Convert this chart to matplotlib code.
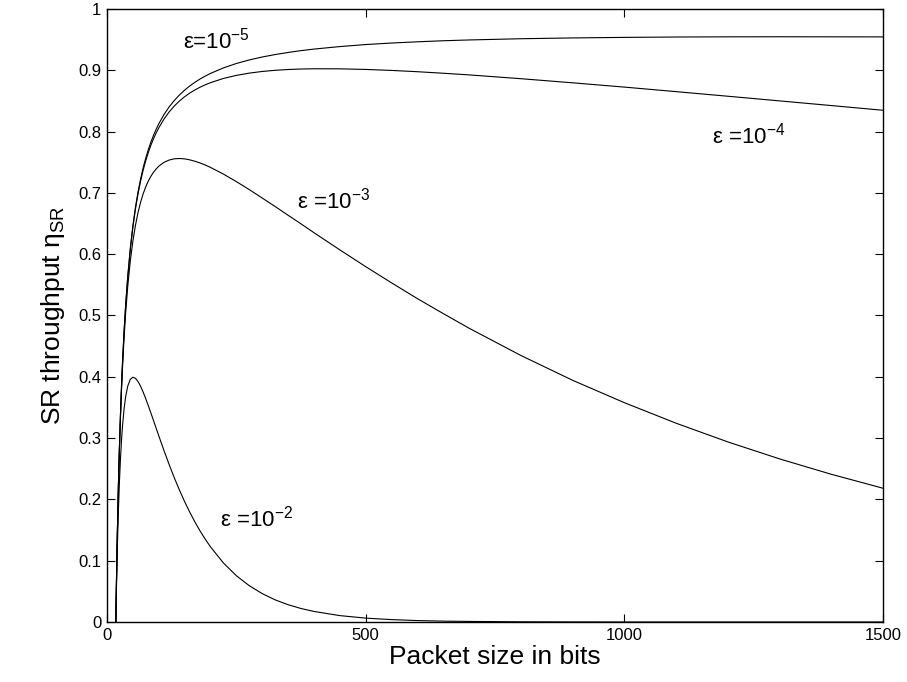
import matplotlib
matplotlib.use('Agg')
import matplotlib.pyplot as plt

plt.rcParams['font.family'] = ['Liberation Sans', 'DejaVu Sans']
plt.rcParams['mathtext.fontset'] = 'custom'
plt.rcParams['mathtext.rm'] = 'Liberation Sans'
plt.rcParams['mathtext.it'] = 'Liberation Sans:italic'
plt.rcParams['mathtext.bf'] = 'Liberation Sans:bold'

# packet size in bits (x samples)
L = [17, 18, 19, 20, 22, 24, 26, 28, 30, 33, 36, 40, 45, 50, 55, 60, 65, 70, 75, 80,
     85, 90, 95, 100, 110, 120, 130, 140, 150, 160, 170, 180, 190, 200, 225, 250, 275,
     300, 325, 350, 375, 400, 450, 500, 550, 600, 650, 700, 800, 900, 1000, 1100, 1200,
     1300, 1400, 1500]

# SR throughput
eta_e2 = [0, 0.0464, 0.0870, 0.1227, 0.1822, 0.2292, 0.2665, 0.2965, 0.3205, 0.3480,
          0.3676, 0.3847, 0.3958, 0.3993, 0.3975, 0.3922, 0.3843, 0.3747, 0.3639, 0.3524,
          0.3405, 0.3283, 0.3160, 0.3038, 0.2799, 0.2570, 0.2354, 0.2152, 0.1964, 0.1790,
          0.1630, 0.1483, 0.1349, 0.1226, 0.0963, 0.0755, 0.0592, 0.0463, 0.0361, 0.0282,
          0.0220, 0.0172, 0.0104, 0.0063, 0.0039, 0.0023, 0.0014, 0.0009, 0.0003, 0.0001,
          0, 0, 0, 0, 0, 0]
eta_e3 = [0, 0.0540, 0.1022, 0.1456, 0.2201, 0.2819, 0.3339, 0.3782, 0.4163, 0.4644,
          0.5040, 0.5469, 0.5889, 0.6215, 0.6474, 0.6682, 0.6851, 0.6989, 0.7103, 0.7197,
          0.7274, 0.7339, 0.7391, 0.7435, 0.7498, 0.7536, 0.7556, 0.7561, 0.7555, 0.7539,
          0.7516, 0.7488, 0.7454, 0.7416, 0.7307, 0.7184, 0.7054, 0.6916, 0.6778, 0.6635,
          0.6495, 0.6351, 0.6071, 0.5797, 0.5533, 0.5275, 0.5031, 0.4792, 0.4348, 0.3943,
          0.3578, 0.3243, 0.2938, 0.2661, 0.2410, 0.2182]
eta_e4 = [0, 0.0544, 0.1031, 0.1469, 0.2225, 0.2854, 0.3387, 0.3843, 0.4238, 0.4741,
          0.5159, 0.5618, 0.6077, 0.6442, 0.6741, 0.6988, 0.7197, 0.7376, 0.7530, 0.7664,
          0.7782, 0.7886, 0.7978, 0.8061, 0.8203, 0.8320, 0.8417, 0.8499, 0.8569, 0.8629,
          0.8680, 0.8725, 0.8764, 0.8798, 0.8867, 0.8917, 0.8954, 0.8981, 0.9000, 0.9013,
          0.9021, 0.9025, 0.9024, 0.9014, 0.8998, 0.8977, 0.8952, 0.8925, 0.8863, 0.8796,
          0.8726, 0.8652, 0.8577, 0.8501, 0.8425, 0.8348]
eta_e5 = [0, 0.0544, 0.1031, 0.1470, 0.2227, 0.2858, 0.3391, 0.3849, 0.4245, 0.4750,
          0.5170, 0.5633, 0.6095, 0.6465, 0.6767, 0.7019, 0.7232, 0.7415, 0.7573, 0.7711,
          0.7833, 0.7942, 0.8039, 0.8126, 0.8276, 0.8402, 0.8507, 0.8598, 0.8676, 0.8745,
          0.8805, 0.8859, 0.8906, 0.8949, 0.9039, 0.9111, 0.9169, 0.9217, 0.9257, 0.9291,
          0.9321, 0.9346, 0.9387, 0.9420, 0.9445, 0.9465, 0.9482, 0.9495, 0.9515, 0.9528,
          0.9537, 0.9543, 0.9546, 0.9547, 0.9546, 0.9545]

x_ticks = [0, 500, 1000, 1500]
y_ticks = [0, 0.1, 0.2, 0.3, 0.4, 0.5, 0.6, 0.7, 0.8, 0.9, 1]
y_tick_labels = ['0', '0.1', '0.2', '0.3', '0.4', '0.5', '0.6', '0.7', '0.8', '0.9', '1']

fig = plt.figure(figsize=(9.07, 6.82), dpi=100)
ax = fig.add_axes([0.118, 0.088, 0.8555, 0.8988])

for eta in (eta_e2, eta_e3, eta_e4, eta_e5):
    ax.plot(L, eta, color='black', linewidth=0.8)

ax.set_xlim(0, 1500)
ax.set_ylim(0, 1)
ax.set_xticks(x_ticks)
ax.set_yticks(y_ticks)
ax.set_yticklabels(y_tick_labels)
ax.tick_params(direction='in', length=6, width=0.8, top=True, right=True,
               labelsize=12, pad=4)
for s in ax.spines.values():
    s.set_linewidth(1.0)

ax.set_xlabel('Packet size in bits', fontsize=19, labelpad=2)
ax.set_ylabel(r'SR throughput η$_{\mathrm{SR}}$', fontsize=19, labelpad=8)

lab_kw = dict(fontsize=16, ha='left', va='baseline')
ax.text(147, 0.936, r'ε=10$^{\mathrm{-5}}$', **lab_kw)
ax.text(1170, 0.781, r'ε =10$^{\mathrm{-4}}$', **lab_kw)
ax.text(367, 0.675, r'ε =10$^{\mathrm{-3}}$', **lab_kw)
ax.text(218, 0.155, r'ε =10$^{\mathrm{-2}}$', **lab_kw)

fig.savefig('out.png', dpi=100)
